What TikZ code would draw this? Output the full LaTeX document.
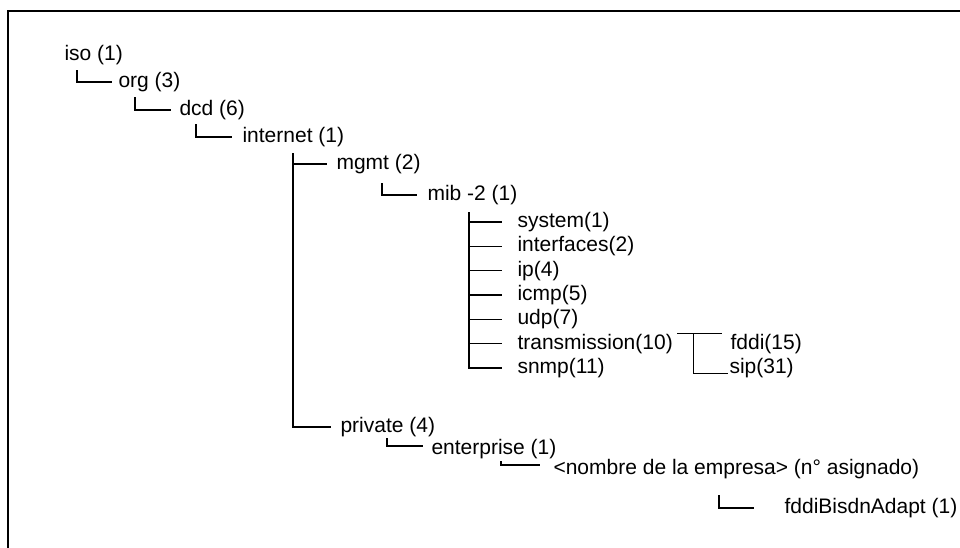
\documentclass[tikz,border=0pt]{standalone}
\usepackage{fontspec}
\setmainfont{Liberation Sans}
\begin{document}
\begin{tikzpicture}[x=1pt, y=-1pt, line width=1.1pt,
    oid/.style={anchor=west, inner sep=0pt, font=\fontsize{21}{25}\selectfont}]
\useasboundingbox (0,0) rectangle (960,548);
\draw[line width=1.6pt] (8,548) |- (960,11);
% upper chain
\node[oid] (iso) at (64,55) {iso (1)};
\node[oid] (org) at (118,82) {org (3)};
\node[oid] (dcd) at (179,110) {dcd (6)};
\node[oid] (internet) at (242,137) {internet (1)};
\node[oid] (mgmt) at (336,164) {mgmt (2)};
\node[oid] (mib) at (427,195) {mib -2 (1)};
% mib-2 groups
\node[oid] (system) at (517,222) {system(1)};
\node[oid] (interfaces) at (517,246.3) {interfaces(2)};
\node[oid] (ip) at (517,270.7) {ip(4)};
\node[oid] (icmp) at (517,295) {icmp(5)};
\node[oid] (udp) at (517,319.3) {udp(7)};
\node[oid] (trans) at (517,343.7) {transmission(10)};
\node[oid] (snmp) at (517,368) {snmp(11)};
\node[oid] (fddi) at (730,343.7) {fddi(15)};
\node[oid] (sip) at (729,368) {sip(31)};
% private branch
\node[oid] (private) at (340,427) {private (4)};
\node[oid] (enterprise) at (431,449) {enterprise (1)};
\node[oid] (nombre) at (553,469) {<nombre de la empresa> (n° asignado)};
\node[oid] (fddib) at (784,508) {fddiBisdnAdapt (1)};
% connectors
\draw ([xshift=13pt,yshift=-5pt]iso.south west) |- ([xshift=-6pt]org.west);
\draw ([xshift=17pt,yshift=-5pt]org.south west) |- ([xshift=-8pt]dcd.west);
\draw ([xshift=17pt,yshift=-4pt]dcd.south west) |- ([xshift=-10pt]internet.west);
\coordinate (inttrunk) at ([xshift=51pt,yshift=-6pt]internet.south west);
\draw (inttrunk) |- ([xshift=-9pt]private.west);
\draw (inttrunk |- mgmt.west) -- ([xshift=-9pt]mgmt.west);
\draw ([xshift=46pt,yshift=-9pt]mgmt.south west) |- ([xshift=-10pt]mib.west);
\coordinate (mibtrunk) at ([xshift=42pt,yshift=-7pt]mib.south west);
\draw (mibtrunk) |- ([xshift=-15pt]snmp.west);
\draw (mibtrunk |- system.west) -- ([xshift=-15pt]system.west);
\draw (mibtrunk |- interfaces.west) -- ([xshift=-15pt]interfaces.west);
\draw (mibtrunk |- ip.west) -- ([xshift=-15pt]ip.west);
\draw (mibtrunk |- icmp.west) -- ([xshift=-15pt]icmp.west);
\draw (mibtrunk |- udp.west) -- ([xshift=-15pt]udp.west);
\draw (mibtrunk |- trans.west) -- ([xshift=-15pt]trans.west);
\draw ([xshift=4pt]trans.north east) -- ([xshift=-8pt]fddi.north west);
\draw ([xshift=20pt]trans.north east) |- ([xshift=-1pt]sip.base west);
\draw ([xshift=47pt,yshift=-1pt]private.south west) |- ([xshift=-8pt,yshift=3pt]enterprise.west);
\draw ([xshift=70pt,yshift=-2pt]enterprise.south west) |- ([xshift=-13pt,yshift=4pt]nombre.west);
\draw ([xshift=166pt,yshift=-16pt]nombre.south west) |- ([xshift=-30pt]fddib.west);
\end{tikzpicture}
\end{document}
